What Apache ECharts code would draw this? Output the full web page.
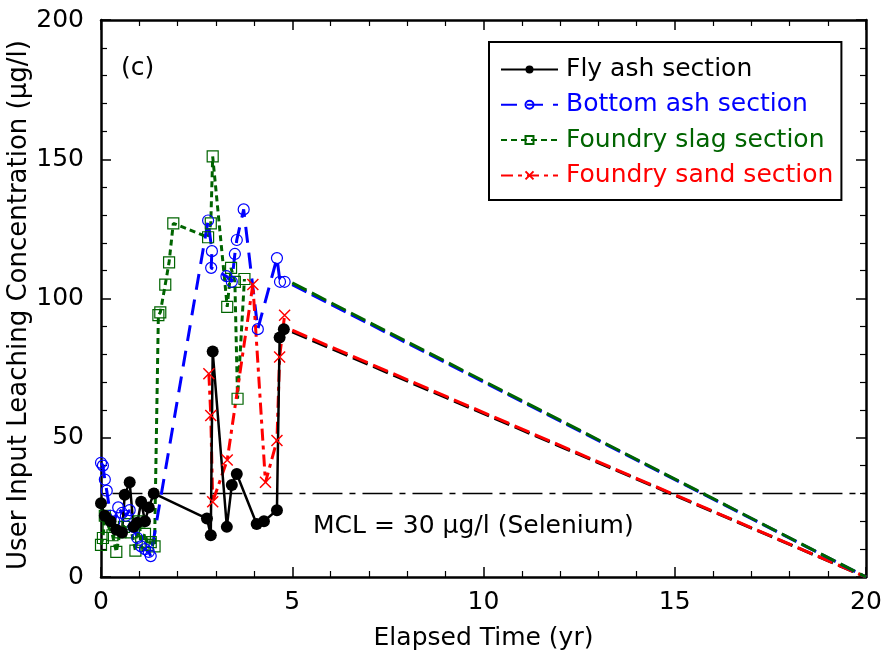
<!DOCTYPE html>
<html>
<head>
<meta charset="utf-8">
<script src="https://cdn.jsdelivr.net/npm/echarts@6/dist/echarts.min.js"></script>
<style>
html,body{margin:0;padding:0;background:#fff;}
#main{width:886px;height:656px;}
</style>
</head>
<body>
<div id="main"></div>
<script>
// series values, [time (yr), concentration (ug/l)]
var flyAsh=[[0,26.5],[0.1,22],[0.25,20],[0.4,17],[0.55,16],[0.62,29.5],[0.75,34],[0.85,18],[0.95,19.5],[1.05,27],[1.15,20],[1.25,25],[1.38,30],
	[2.77,21],[2.87,15],[2.92,81],[3.29,18],[3.42,33],[3.55,37],[4.07,19],[4.26,20],[4.6,24],[4.67,86],[4.78,89]];
var bottomAsh=[[0,41],[0.05,40],[0.1,35],[0.15,31],[0.25,22],[0.35,20],[0.45,25],[0.55,23],[0.65,22],[0.75,24],[0.85,18],[0.95,14],[1.05,11],[1.15,10],[1.25,9],[1.3,7.5],
	[2.8,128],[2.9,117],[2.88,111],[3.28,108],[3.42,106],[3.5,116],[3.55,121],[3.73,132],[4.1,89],[4.6,114.5],[4.68,106],[4.8,106]];
var foundrySlag=[[0,11.5],[0.05,14],[0.1,22],[0.2,18],[0.3,15],[0.4,9],[0.5,16],[0.6,18],[0.7,19],[0.8,16],[0.9,9.5],[1.0,20],[1.05,12.5],[1.15,15.5],[1.22,11.5],[1.3,12.5],[1.4,11],
	[1.5,94],[1.55,95],[1.68,105],[1.78,113],[1.89,127],[2.8,122],[2.87,127],[2.92,151],[3.3,97],[3.4,111],[3.5,106],[3.57,64],[3.75,107]];
var foundrySand=[[2.82,73],[2.87,58],[2.92,27],[3.3,42],[3.97,105],[4.3,34],[4.6,49],[4.67,79],[4.8,94]];
// projections to zero at 20 yr
var flyAshExt=[[5,88],[20,0]];
var sandExt=[[5,88.6],[20,0]];
var bottomAshExt=[[5,105],[20,0]];
var slagExt=[[5,105.6],[20,0]];
var mcl=[[0.3,30],[20,30]];

var names=['Fly ash section','Bottom ash section','Foundry slag section','Foundry sand section'];
var colors=['#000000','#0000ff','#006400','#ff0000'];
var font='"DejaVu Sans", sans-serif';

var chart=echarts.init(document.getElementById('main'));

function axisBase(){
	return {
		axisLine:{show:true,onZero:false,lineStyle:{color:'#000',width:2.5}},
		axisTick:{show:true,inside:true,length:10,lineStyle:{color:'#000',width:1.5}},
		minorTick:{show:true,splitNumber:5,length:6,lineStyle:{color:'#000',width:1.2}},
		splitLine:{show:false},
		axisLabel:{color:'#000',fontSize:25,fontFamily:font}
	};
}
var xB=axisBase(),xT=axisBase(),yL=axisBase(),yR=axisBase();
xT.axisLabel={show:false};
yR.axisLabel={show:false};
yL.axisLabel.margin=17;
xB.axisLabel.margin=13;

var option={
	animation:false,
	backgroundColor:'#fff',
	grid:{left:101,right:20,top:20,bottom:79,outerBoundsMode:'none',containLabel:false},
	legend:{
		left:489,top:42,
		orient:'vertical',
		borderColor:'#000',borderWidth:2,
		padding:[15,8,12,11],
		itemGap:10.3,
		itemWidth:57,itemHeight:10,
		textStyle:{fontSize:25,fontFamily:font,padding:[0,0,0,3]},
		data:names.map(function(n,i){return {name:n,textStyle:{color:colors[i]}};})
	},
	xAxis:[
		Object.assign(xB,{type:'value',min:0,max:20,interval:5,position:'bottom',
			name:'Elapsed Time (yr)',nameLocation:'middle',nameGap:49,nameMoveOverlap:false,
			nameTextStyle:{color:'#000',fontSize:25,fontFamily:font}}),
		Object.assign(xT,{type:'value',min:0,max:20,interval:5,position:'top'})
	],
	yAxis:[
		Object.assign(yL,{type:'value',min:0,max:200,interval:50,position:'left',
			name:'User Input Leaching Concentration (\u03bcg/l)',nameLocation:'middle',nameGap:69,nameMoveOverlap:false,
			nameTextStyle:{color:'#000',fontSize:26,fontFamily:font,padding:[0,13,0,0]}}),
		Object.assign(yR,{type:'value',min:0,max:200,interval:50,position:'right'})
	],
	graphic:[
		{type:'text',left:121,top:56,style:{text:'(c)',fontSize:25,fontFamily:font,fill:'#000'}},
		{type:'text',left:313,top:514,style:{text:'MCL = 30 \u03bcg/l (Selenium)',fontSize:25,fontFamily:font,fill:'#000'}}
	],
	series:[
		{name:'MCL',type:'line',data:mcl,symbol:'none',silent:true,
			lineStyle:{color:'#000',width:1.5,type:[30,7,6,7]}},
		{name:'Fly ash ext',type:'line',data:flyAshExt,symbol:'none',
			lineStyle:{color:'#000',width:3,type:[16,6]}},
		{name:'Sand ext',type:'line',data:sandExt,symbol:'none',
			lineStyle:{color:'#ff0000',width:3,type:[16,6]}},
		{name:'Bottom ext',type:'line',data:bottomAshExt,symbol:'none',
			lineStyle:{color:'#0000ff',width:3,type:[16,6]}},
		{name:'Slag ext',type:'line',data:slagExt,symbol:'none',
			lineStyle:{color:'#006400',width:3,type:[16,6]}},
		{name:names[2],type:'line',data:foundrySlag,
			symbol:'rect',symbolSize:11,
			itemStyle:{color:'rgba(0,0,0,0)',borderColor:'#006400',borderWidth:1.2},
			lineStyle:{color:'#006400',width:3,type:[6,4]}},
		{name:names[1],type:'line',data:bottomAsh,
			symbol:'circle',symbolSize:11,
			itemStyle:{color:'rgba(0,0,0,0)',borderColor:'#0000ff',borderWidth:1.2},
			lineStyle:{color:'#0000ff',width:3,type:[16,10]}},
		{name:names[3],type:'line',data:foundrySand,
			symbol:'path://M0,0L10,10M10,0L0,10',symbolSize:11,
			itemStyle:{color:'#ff0000',borderColor:'#ff0000',borderWidth:1.5},
			lineStyle:{color:'#ff0000',width:3,type:[12,5,4,5]}},
		{name:names[0],type:'line',data:flyAsh,
			symbol:'circle',symbolSize:12,
			itemStyle:{color:'#000'},
			lineStyle:{color:'#000',width:2.5}}
	]
};
chart.setOption(option);
</script>
</body>
</html>
